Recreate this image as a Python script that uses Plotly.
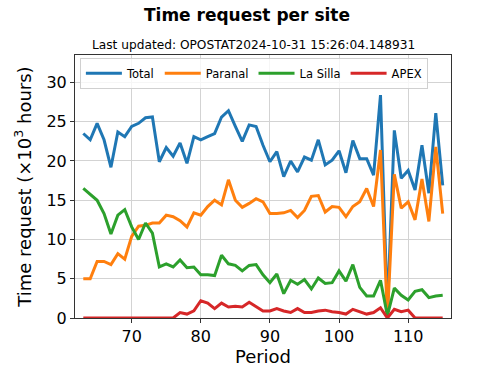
import plotly.graph_objects as go

periods = list(range(63, 116))

total = [23.5, 22.7, 24.8, 22.7, 19.2, 23.7, 23.1, 24.4, 24.8, 25.5,
         25.6, 19.9, 21.7, 20.6, 22.3, 19.7, 23.1, 22.7, 23.1, 23.5,
         25.6, 26.4, 24.4, 22.5, 24.6, 24.4, 22.0, 19.9, 21.2, 18.0,
         20.0, 18.6, 20.5, 20.1, 22.7, 19.5, 20.1, 21.3, 18.5, 22.6,
         20.3, 20.3, 18.2, 28.4, 0.8, 23.9, 17.8, 18.8, 16.3, 22.0,
         15.9, 26.1, 16.9]

paranal = [5.0, 5.0, 7.2, 7.2, 6.8, 8.2, 7.5, 10.4, 11.7, 11.8,
           12.1, 12.1, 13.1, 12.9, 12.4, 11.6, 13.4, 13.1, 14.2, 15.0,
           14.4, 17.6, 15.0, 14.1, 14.6, 15.2, 14.8, 13.3, 13.3, 13.4,
           13.7, 12.8, 13.7, 15.5, 15.6, 13.5, 14.2, 14.1, 12.9, 14.2,
           14.8, 16.5, 14.2, 21.4, 0.0, 18.3, 14.0, 14.8, 12.5, 17.7,
           12.3, 21.8, 13.3]

lasilla = [16.5, 15.8, 15.0, 13.3, 10.7, 13.1, 13.8, 11.6, 10.0, 12.1,
           10.8, 6.5, 6.9, 6.5, 7.4, 6.4, 6.5, 5.5, 5.5, 5.4,
           8.0, 6.9, 6.7, 6.0, 6.7, 6.8, 5.5, 4.5, 5.6, 3.1,
           4.8, 4.3, 4.9, 3.7, 5.1, 4.4, 4.5, 6.0, 4.7, 6.8,
           3.9, 2.8, 2.8, 4.8, 0.3, 3.8, 2.9, 2.3, 3.4, 3.6,
           2.6, 2.8, 2.9]

apex = [0, 0, 0, 0, 0, 0, 0, 0, 0, 0,
        0, 0, 0, 0, 0.7, 0.5, 0.9, 2.2, 1.9, 1.2,
        1.9, 1.4, 1.5, 1.4, 2.0, 1.4, 0.9, 0.9, 1.2, 0.9,
        0.7, 1.2, 0.7, 0.7, 0.9, 1.0, 0.8, 0.7, 0.5, 1.1,
        0.8, 0.5, 0.7, 1.3, 0.0, 1.1, 0.8, 1.0, 0.0, 0.0,
        0.0, 0.0, 0.0]

series_names = ["Total", "Paranal", "La Silla", "APEX"]
series_colors = ["#1f77b4", "#ff7f0e", "#2ca02c", "#d62728"]
x_ticks = [70, 80, 90, 100, 110]
y_ticks = [0, 5, 10, 15, 20, 25, 30]

title_text = "Time request per site"
subtitle_text = "Last updated: OPOSTAT2024-10-31 15:26:04.148931"

font = "DejaVu Sans"

fig = go.Figure()
for name, vals, col in zip(series_names, [total, paranal, lasilla, apex], series_colors):
    fig.add_trace(go.Scatter(x=periods, y=vals, mode="lines", name=name,
                             line=dict(color=col, width=3)))

fig.update_layout(
    width=501, height=375,
    margin=dict(l=75, r=50, t=55, b=57),
    paper_bgcolor="white", plot_bgcolor="white",
    font=dict(family=font, color="black"),
    showlegend=True,
    title=dict(text="<b>" + title_text + "</b>", xref="container", yref="container",
               x=0.493, y=1 - 15 / 375, xanchor="center", yanchor="middle",
               font=dict(size=17, family=font)),
    legend=dict(orientation="h", x=0.013, y=0.99, xanchor="left", yanchor="top",
                bgcolor="rgba(255,255,255,0.8)", bordercolor="#d0d0d0", borderwidth=1,
                font=dict(size=11.5, family=font), itemwidth=36),
    annotations=[
        dict(text=subtitle_text, xref="paper", yref="paper",
             x=(253 - 75) / 376, y=1 + 10 / 263, xanchor="center", yanchor="middle",
             showarrow=False, font=dict(size=12.2, family=font)),
    ],
)

fig.update_xaxes(range=[61.8, 116.2], tickvals=x_ticks, showgrid=True, gridcolor="#d3d3d3",
                 gridwidth=1, showline=True, mirror=True, linecolor="#333", linewidth=1,
                 ticks="outside", ticklen=4, tickcolor="#333", zeroline=False,
                 tickfont=dict(size=16), title=dict(text="Period", font=dict(size=18), standoff=3))
fig.update_yaxes(range=[0, 33.5], tickvals=y_ticks, showgrid=True, gridcolor="#d3d3d3",
                 gridwidth=1, showline=True, mirror=True, linecolor="#333", linewidth=1,
                 ticks="outside", ticklen=4, tickcolor="#333", zeroline=False,
                 tickfont=dict(size=16),
                 title=dict(text="Time request (×10<sup>3</sup> hours)", font=dict(size=18), standoff=10))

fig.write_html("out.html", config={"displayModeBar": False},
               post_script="document.body.style.margin='0';")
